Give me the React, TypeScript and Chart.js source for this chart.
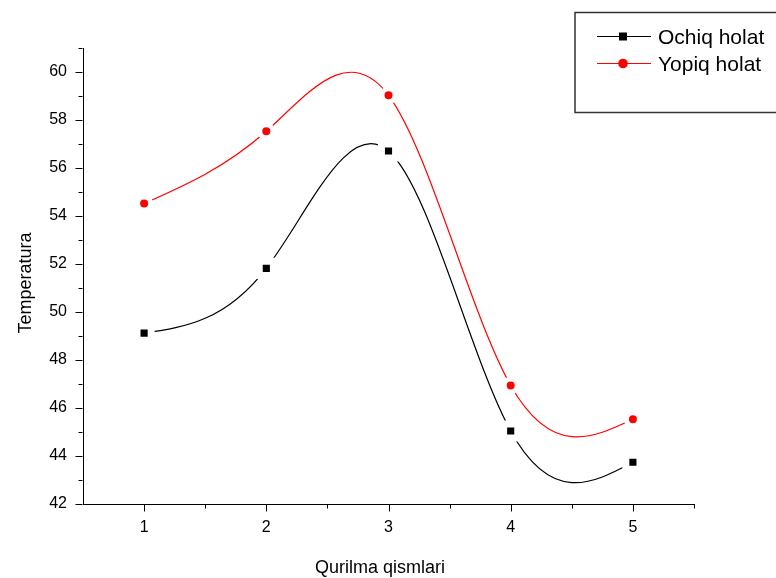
import { useEffect, useRef } from "react";
import { Chart, registerables } from "chart.js";

Chart.register(...registerables);

const categories = [1, 2, 3, 4, 5];
const ochiqHolat = [49.12, 51.82, 56.71, 45.04, 43.74];
const yopiqHolat = [54.52, 57.53, 59.03, 46.94, 45.53];
const yTickValues = [42, 44, 46, 48, 50, 52, 54, 56, 58, 60];
const seriesLabels = ["Ochiq holat", "Yopiq holat"];
const xAxisTitle = "Qurilma qismlari";
const yAxisTitle = "Temperatura";

const FONT = "'Liberation Sans', Arial, sans-serif";

function naturalSpline(meta: any) {
  if (!meta || !meta.dataset || !meta.data) return;
  const pts = meta.data.filter((p: any) => !p.skip);
  const n = pts.length;
  if (n < 3) return;
  const xs = pts.map((p: any) => p.x);
  const ys = pts.map((p: any) => p.y);
  const h: number[] = [];
  for (let i = 0; i < n - 1; i++) h[i] = xs[i + 1] - xs[i];
  const M = new Array(n).fill(0);
  const cp: number[] = [];
  const dp: number[] = [];
  for (let i = 1; i < n - 1; i++) {
    const a = h[i - 1];
    const b = 2 * (h[i - 1] + h[i]);
    const c = h[i];
    const d = 6 * ((ys[i + 1] - ys[i]) / h[i] - (ys[i] - ys[i - 1]) / h[i - 1]);
    const m = b - (i > 1 ? a * cp[i - 1] : 0);
    cp[i] = c / m;
    dp[i] = (d - (i > 1 ? a * dp[i - 1] : 0)) / m;
  }
  for (let i = n - 2; i >= 1; i--) {
    M[i] = dp[i] - (i < n - 2 ? cp[i] * M[i + 1] : 0);
  }
  for (let i = 0; i < n - 1; i++) {
    const hi = h[i];
    const s = (ys[i + 1] - ys[i]) / hi;
    const d0 = s - (hi * (2 * M[i] + M[i + 1])) / 6;
    const d1 = s + (hi * (M[i] + 2 * M[i + 1])) / 6;
    pts[i].cp2x = xs[i] + hi / 3;
    pts[i].cp2y = ys[i] + (d0 * hi) / 3;
    pts[i + 1].cp1x = xs[i + 1] - hi / 3;
    pts[i + 1].cp1y = ys[i + 1] - (d1 * hi) / 3;
  }
  pts[0].cp1x = xs[0];
  pts[0].cp1y = ys[0];
  pts[n - 1].cp2x = xs[n - 1];
  pts[n - 1].cp2y = ys[n - 1];
  meta.dataset._pointsUpdated = true;
  meta.dataset._path = undefined;
}

const splinePlugin = {
  id: "naturalSpline",
  afterUpdate(chart: any) {
    chart.getSortedVisibleDatasetMetas().forEach((m: any) => naturalSpline(m));
  },
  beforeDatasetDraw(chart: any, args: any) {
    naturalSpline(args.meta);
  },
};

const decorPlugin = {
  id: "decor",
  afterDraw(chart: any) {
    const ctx = chart.ctx;
    const xs = chart.scales.x;
    const ys = chart.scales.y;
    const area = chart.chartArea;
    ctx.save();
    // tick marks
    ctx.strokeStyle = "#000";
    ctx.lineWidth = 1;
    ctx.beginPath();
    const bottom = Math.round(area.bottom) + 0.5;
    categories.forEach((v) => {
      const px = Math.round(xs.getPixelForValue(v)) + 0.5;
      ctx.moveTo(px, bottom);
      ctx.lineTo(px, bottom + 7);
      const mx = Math.round(xs.getPixelForValue(v + 0.5)) + 0.5;
      ctx.moveTo(mx, bottom);
      ctx.lineTo(mx, bottom + 4);
    });
    const left = Math.round(area.left) - 0.5;
    yTickValues.forEach((v) => {
      const py = Math.round(ys.getPixelForValue(v)) + 0.5;
      ctx.moveTo(left, py);
      ctx.lineTo(left - 7, py);
      const my = Math.round(ys.getPixelForValue(v + 1)) + 0.5;
      ctx.moveTo(left, my);
      ctx.lineTo(left - 4, my);
    });
    ctx.stroke();

    // axis titles
    ctx.fillStyle = "#000";
    ctx.font = `18px ${FONT}`;
    ctx.textAlign = "center";
    ctx.textBaseline = "alphabetic";
    ctx.fillText(xAxisTitle, 380, 573);
    ctx.save();
    ctx.translate(31, 283);
    ctx.rotate(-Math.PI / 2);
    ctx.fillText(yAxisTitle, 0, 0);
    ctx.restore();

    // legend
    ctx.strokeStyle = "#333";
    ctx.lineWidth = 1.5;
    ctx.strokeRect(575, 12.5, 230, 100);
    ctx.font = `21px ${FONT}`;
    ctx.textAlign = "left";
    chart.data.datasets.forEach((ds: any, i: number) => {
      const y = 36 + i * 27;
      ctx.strokeStyle = ds.borderColor;
      ctx.lineWidth = 1.2;
      ctx.beginPath();
      ctx.moveTo(597, y + 0.5);
      ctx.lineTo(651, y + 0.5);
      ctx.stroke();
      ctx.fillStyle = ds.pointBackgroundColor;
      if (ds.pointStyle === "rect") {
        ctx.fillRect(619, y - 3.5, 8, 8);
      } else {
        ctx.beginPath();
        ctx.arc(623, y + 0.5, 4.8, 0, Math.PI * 2);
        ctx.fill();
      }
      ctx.fillStyle = "#000";
      ctx.fillText(ds.label, 658, y + 8);
    });
    ctx.restore();
  },
};

export default function App() {
  const canvasRef = useRef<HTMLCanvasElement>(null);

  useEffect(() => {
    document.body.style.margin = "0";
    const canvas = canvasRef.current;
    if (!canvas) return;
    const chart = new Chart(canvas, {
      type: "line",
      data: {
        datasets: [
          {
            label: seriesLabels[0],
            data: categories.map((c, i) => ({ x: c, y: ochiqHolat[i] })),
            borderColor: "#000000",
            borderWidth: 1.2,
            tension: 0.4,
            pointStyle: "rect",
            pointRadius: 10,
            pointBorderWidth: 7,
            pointBorderColor: "#ffffff",
            pointBackgroundColor: "#000000",
            fill: false,
          },
          {
            label: seriesLabels[1],
            data: categories.map((c, i) => ({ x: c, y: yopiqHolat[i] })),
            borderColor: "#ff0000",
            borderWidth: 1.2,
            tension: 0.4,
            pointStyle: "circle",
            pointRadius: 6.5,
            pointBorderWidth: 5,
            pointBorderColor: "#ffffff",
            pointBackgroundColor: "#ff0000",
            fill: false,
          },
        ],
      },
      options: {
        responsive: false,
        animation: false,
        events: [],
        layout: { padding: { top: 48, right: 82, left: 0, bottom: 0 } },
        plugins: {
          legend: { display: false },
          tooltip: { enabled: false },
        },
        scales: {
          x: {
            type: "linear",
            min: 0.5,
            max: 5.5,
            afterFit: (s: any) => {
              s.height = 74;
            },
            afterBuildTicks: (s: any) => {
              s.ticks = categories.map((v) => ({ value: v }));
            },
            grid: { display: false },
            border: { display: true, color: "#000", width: 1 },
            ticks: {
              color: "#000",
              padding: 6,
              font: { family: FONT, size: 16 },
              maxRotation: 0,
              callback: (v: any) => String(v),
            },
          },
          y: {
            type: "linear",
            min: 42,
            max: 61,
            afterFit: (s: any) => {
              s.width = 83;
            },
            afterBuildTicks: (s: any) => {
              s.ticks = yTickValues.map((v) => ({ value: v }));
            },
            grid: { display: false },
            border: { display: true, color: "#000", width: 1 },
            ticks: {
              color: "#000",
              padding: 8,
              font: { family: FONT, size: 16 },
              callback: (v: any) => String(v),
            },
          },
        },
      },
      plugins: [splinePlugin, decorPlugin],
    } as any);
    return () => chart.destroy();
  }, []);

  return (
    <div style={{ width: 776, height: 578 }}>
      <canvas ref={canvasRef} width={776} height={578} />
    </div>
  );
}
